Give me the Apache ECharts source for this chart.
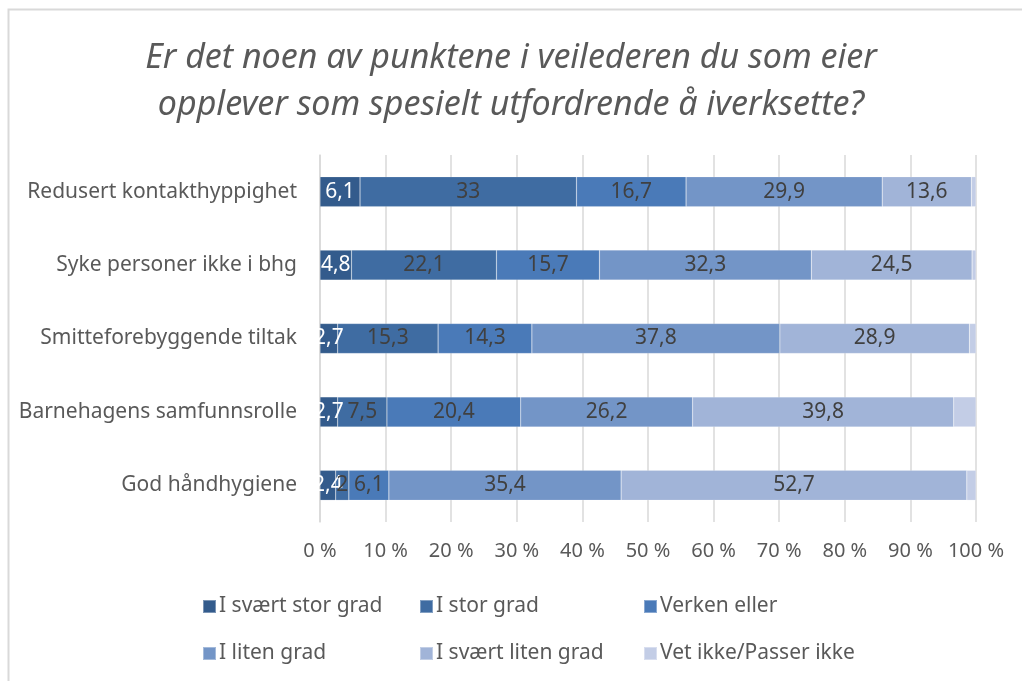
<!DOCTYPE html>
<html>
<head>
<meta charset="utf-8">
<script src="https://cdn.jsdelivr.net/npm/echarts@6/dist/echarts.min.js"></script>
<style>
  html, body { margin: 0; padding: 0; background: #fff; }
  #main { width: 1022px; height: 681px; }
</style>
</head>
<body>
<div id="main"></div>
<script>
// kategorier og verdier (prosent)
const categories = [
  'Redusert kontakthyppighet',
  'Syke personer ikke i bhg',
  'Smitteforebyggende tiltak',
  'Barnehagens samfunnsrolle',
  'God håndhygiene'
]
const seriesNames = [
  'I svært stor grad',
  'I stor grad',
  'Verken eller',
  'I liten grad',
  'I svært liten grad',
  'Vet ikke/Passer ikke'
]
const svaertStor = [6.1, 4.8, 2.7, 2.7, 2.4]
const stor = [33, 22.1, 15.3, 7.5, 2]
const verken = [16.7, 15.7, 14.3, 20.4, 6.1]
const liten = [29.9, 32.3, 37.8, 26.2, 35.4]
const svaertLiten = [13.6, 24.5, 28.9, 39.8, 52.7]
const vetIkke = [0.7, 0.6, 1.0, 3.4, 1.4]
const xTicks = [0, 10, 20, 30, 40, 50, 60, 70, 80, 90, 100]

const values = [svaertStor, stor, verken, liten, svaertLiten, vetIkke]
const colors = ['#335b8c', '#3f6ca2', '#4a7ab8', '#7395c7', '#a1b4d8', '#c3cde6']
const font = 'Noto Sans'

const chart = echarts.init(document.getElementById('main'))

// legend: én per element, i to rader med tre kolonner
const legendX = [197, 414, 638]
const legendY = [604, 651]
const legends = seriesNames.map((name, i) => ({
  data: [name],
  left: legendX[i % 3],
  top: legendY[Math.floor(i / 3)] - 13,
  itemWidth: 13,
  itemHeight: 13,
  itemGap: 4,
  icon: 'rect',
  selectedMode: false,
  textStyle: { fontFamily: font, fontSize: 21, color: '#595959', padding: [0, 0, 0, -2] }
}))

const option = {
  backgroundColor: '#fff',
  animation: false,
  title: {
    text: 'Er det noen av punktene i veilederen du som eier\nopplever som spesielt utfordrende å iverksette?',
    left: 'center',
    top: 30,
    textStyle: {
      fontFamily: font,
      fontStyle: 'italic',
      fontWeight: 'normal',
      fontSize: 34,
      lineHeight: 47,
      color: '#595959'
    }
  },
  graphic: [{
    type: 'rect',
    shape: { x: 8.5, y: 9.5, width: 1100, height: 800 },
    style: { fill: 'none', stroke: '#d9d9d9', lineWidth: 2 },
    silent: true
  }],
  legend: legends,
  grid: { left: 320, right: 46, top: 155, bottom: 159 },
  xAxis: {
    type: 'value',
    min: 0,
    max: 100,
    interval: 10,
    axisLine: { show: false },
    axisTick: { show: false },
    splitLine: { lineStyle: { color: '#d9d9d9', width: 1.5 } },
    axisLabel: {
      margin: 19,
      fontFamily: font,
      fontSize: 20,
      color: '#595959',
      formatter: v => xTicks.includes(v) ? v + ' %' : ''
    }
  },
  yAxis: {
    type: 'category',
    data: categories,
    inverse: true,
    axisLine: { show: true, lineStyle: { color: '#d9d9d9', width: 1.5 } },
    axisTick: { show: false },
    axisLabel: {
      margin: 23,
      fontFamily: font,
      fontSize: 21,
      color: '#595959'
    }
  },
  series: seriesNames.map((name, i) => ({
    name: name,
    type: 'bar',
    stack: 'total',
    barWidth: 30,
    data: values[i],
    itemStyle: { color: colors[i], borderColor: 'rgba(255,255,255,0.35)', borderWidth: 0.5 },
    label: {
      show: i < 5,
      position: 'inside',
      fontFamily: font,
      fontSize: 21,
      color: i === 0 ? '#ffffff' : '#404040',
      formatter: p => String(p.value).replace('.', ',')
    }
  }))
}

chart.setOption(option)
</script>
</body>
</html>
